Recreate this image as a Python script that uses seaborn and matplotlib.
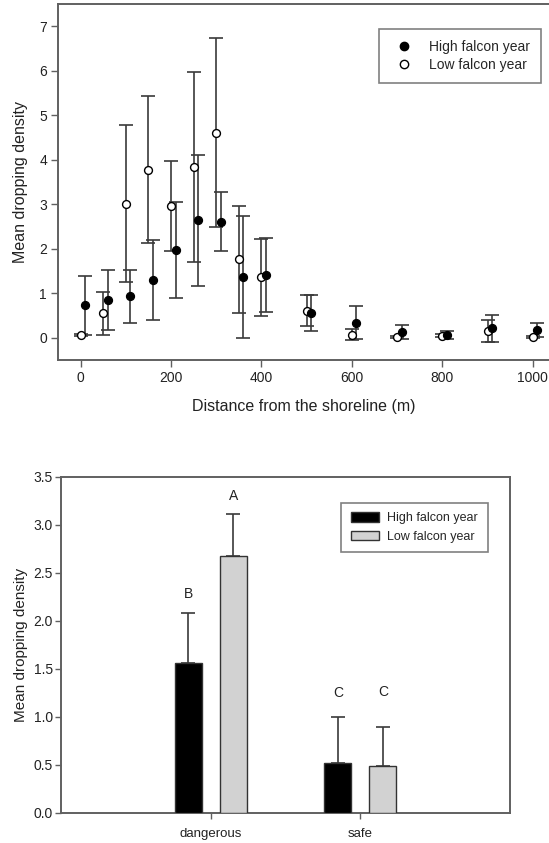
import numpy as np
import pandas as pd
import matplotlib
matplotlib.use("Agg")
import matplotlib.pyplot as plt
import seaborn as sns
from matplotlib.lines import Line2D

# ---------------- data: top panel ----------------
dist_low = [0, 50, 100, 150, 200, 250, 300, 350, 400, 500, 600, 700, 800, 900, 1000]
mean_low = [0.06, 0.55, 3.01, 3.78, 2.96, 3.84, 4.61, 1.76, 1.36, 0.61, 0.07, 0.02, 0.05, 0.15, 0.02]
err_low = [0.03, 0.48, 1.76, 1.65, 1.02, 2.13, 2.12, 1.20, 0.87, 0.35, 0.12, 0.03, 0.03, 0.25, 0.02]

dist_high = [10, 60, 110, 160, 210, 260, 310, 360, 410, 510, 610, 710, 810, 910, 1010]
mean_high = [0.73, 0.85, 0.93, 1.29, 1.97, 2.64, 2.61, 1.37, 1.41, 0.56, 0.34, 0.13, 0.07, 0.21, 0.17]
err_high = [0.66, 0.67, 0.60, 0.90, 1.08, 1.47, 0.67, 1.37, 0.83, 0.40, 0.37, 0.16, 0.09, 0.30, 0.16]

series_labels = ["High falcon year", "Low falcon year"]

# ---------------- data: bottom panel ----------------
habitats = ["dangerous", "safe"]
bar_high = [1.566, 0.52]
bar_low = [2.678, 0.485]
bar_err_high = [0.52, 0.48]
bar_err_low = [0.44, 0.41]
letters_high = ["B", "C"]
letters_low = ["A", "C"]
letter_y_high = [2.28, 1.25]
letter_y_low = [3.30, 1.26]

W, H = 549, 843
fig = plt.figure(figsize=(W / 100, H / 100), dpi=100)
sns.set_style("white")
plt.rcParams['font.family'] = ['Liberation Sans', 'DejaVu Sans']

spine_col = "#606060"
err_col = "#3a3a3a"

def style_axes(ax, right=True):
    for s in ["left", "bottom", "top", "right"]:
        ax.spines[s].set_color(spine_col)
        ax.spines[s].set_linewidth(1.4)
    if not right:
        ax.spines["right"].set_visible(False)
    ax.tick_params(axis="both", direction="out", length=5, width=1.0,
                   color=spine_col, labelsize=10, pad=3, labelcolor="#222222",
                   bottom=True, left=True)

# ---------------- top panel ----------------
ax1 = fig.add_axes([58 / W, 1 - 360 / H, (W - 58) / W, (360 - 4) / H])
df_top = pd.DataFrame({
    "distance": dist_high + dist_low,
    "mean": mean_high + mean_low,
    "err": err_high + err_low,
    "year": [series_labels[0]] * len(dist_high) + [series_labels[1]] * len(dist_low),
})
dh = df_top[df_top.year == series_labels[0]]
dl = df_top[df_top.year == series_labels[1]]
ax1.errorbar(dl["distance"], dl["mean"], yerr=dl["err"], fmt="none",
             ecolor=err_col, elinewidth=1.2, capsize=5, capthick=1.2, zorder=2)
ax1.errorbar(dh["distance"], dh["mean"], yerr=dh["err"], fmt="none",
             ecolor=err_col, elinewidth=1.2, capsize=5, capthick=1.2, zorder=2)
sns.scatterplot(data=dl, x="distance", y="mean", ax=ax1, marker="o", s=32,
                facecolor="white", edgecolor="black", linewidth=1.0, zorder=3, legend=False)
sns.scatterplot(data=dh, x="distance", y="mean", ax=ax1, marker="o", s=32,
                color="black", edgecolor="black", linewidth=1.0, zorder=4, legend=False)
ax1.set_xlim(-50, 1036)
ax1.set_ylim(-0.5, 7.5)
ax1.set_xticks([0, 200, 400, 600, 800, 1000])
ax1.set_yticks(range(0, 8))
ax1.set_xlabel("Distance from the shoreline (m)", fontsize=11.5, labelpad=10, color="#222222")
ax1.set_ylabel("Mean dropping density", fontsize=11.5, labelpad=8, color="#222222")
style_axes(ax1, right=False)
handles = [
    Line2D([], [], marker="o", linestyle="none", markersize=6, markerfacecolor="black",
           markeredgecolor="black"),
    Line2D([], [], marker="o", linestyle="none", markersize=6, markerfacecolor="white",
           markeredgecolor="black"),
]
leg1 = ax1.legend(handles, series_labels, loc="upper left", bbox_to_anchor=(0.654, 0.930),
                  borderaxespad=0, fancybox=False, frameon=True, fontsize=10,
                  handletextpad=0.8, borderpad=0.8, labelspacing=0.3, handlelength=2.0)
leg1.get_frame().set_edgecolor(spine_col)
leg1.get_frame().set_linewidth(1.2)

# ---------------- bottom panel ----------------
ax2 = fig.add_axes([61 / W, 1 - 813 / H, (510 - 61) / W, (813 - 477) / H])
df_bot = pd.DataFrame({
    "habitat": habitats * 2,
    "mean": bar_high + bar_low,
    "err": bar_err_high + bar_err_low,
    "year": [series_labels[0]] * 2 + [series_labels[1]] * 2,
})
sns.barplot(data=df_bot, x="habitat", y="mean", hue="year", ax=ax2,
            palette=["black", "#d2d2d2"], width=0.6, gap=0.4,
            edgecolor="#333333", linewidth=1.0, errorbar=None, zorder=3)
errs = [bar_err_high, bar_err_low]
lets = [letters_high, letters_low]
lety = [letter_y_high, letter_y_low]
bar_conts = list(ax2.containers)
for ci, cont in enumerate(bar_conts):
    xs = [p.get_x() + p.get_width() / 2 for p in cont]
    hs = [p.get_height() for p in cont]
    ax2.errorbar(xs, hs, yerr=[[0] * len(hs), errs[ci]], fmt="none",
                 ecolor=err_col, elinewidth=1.2, capsize=5, capthick=1.2, zorder=2)
    for x, lt, ly in zip(xs, lets[ci], lety[ci]):
        ax2.text(x, ly, lt, ha="center", va="center", fontsize=10, color="#222222")
ax2.set_xlim(-1, 2)
ax2.set_ylim(0, 3.5)
ax2.set_yticks(np.arange(0, 3.51, 0.5))
ax2.set_yticklabels([f"{v:.1f}" for v in np.arange(0, 3.51, 0.5)])
ax2.set_xlabel("")
ax2.set_ylabel("Mean dropping density", fontsize=11, labelpad=4, color="#222222")
style_axes(ax2, right=True)
ax2.tick_params(axis="x", labelsize=9.5, pad=7, length=4)
ax2.tick_params(axis="y", pad=2, length=4)
h2, l2 = ax2.get_legend_handles_labels()
leg2 = ax2.legend(h2, l2, loc="upper left", bbox_to_anchor=(0.624, 0.923),
                  borderaxespad=0, fancybox=False, frameon=True, fontsize=9,
                  handletextpad=0.65, borderpad=0.75, labelspacing=0.5, handlelength=2.3,
                  handleheight=0.8)
leg2.get_frame().set_edgecolor(spine_col)
leg2.get_frame().set_linewidth(1.2)

fig.savefig("out.png", dpi=100)
